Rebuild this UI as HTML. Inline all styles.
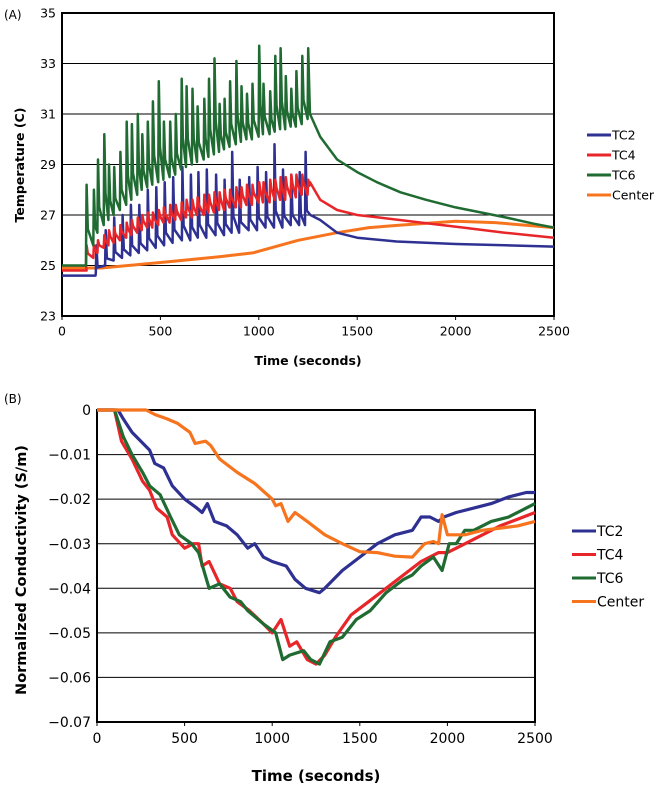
<!DOCTYPE html>
<html><head><meta charset="utf-8"><style>
body{margin:0;background:#fff;}
svg text{font-family:"DejaVu Sans","Liberation Sans",sans-serif;}
</style></head><body>
<svg id="s" width="661" height="790" xmlns="http://www.w3.org/2000/svg"></svg>
<script>
// ---- Chart A data ----
const spikeTimes=[122,159,180,212,236,262,294,326,352,382,405,433,459,489,515,547,575,605,630,660,686,720,744,772,798,823,851,883,909,937,965,999,1021,1055,1081,1108,1134,1162,1188,1218,1248];
const tc6Peaks=[28.2,28.0,29.2,30.2,29.0,28.9,29.5,30.7,30.6,31.0,30.2,30.7,31.5,32.3,30.7,30.7,31.0,32.4,32.1,32.0,31.3,31.6,32.4,33.2,31.4,31.6,32.3,33.1,32.1,31.8,32.2,33.7,32.2,31.9,33.3,33.6,32.5,32.0,32.7,33.3,33.6];
const tc6Troughs=[25.5,25.8,26.3,26.6,26.8,27.0,27.2,27.4,27.6,27.8,28.0,28.1,28.2,28.3,28.4,28.5,28.6,28.8,28.9,29.0,29.1,29.2,29.3,29.4,29.5,29.6,29.7,29.8,29.9,30.0,30.0,30.1,30.2,30.2,30.3,30.4,30.4,30.5,30.5,30.6,30.8];
const tc2Times=[172,219,262,305,347,390,433,476,519,562,609,652,690,733,780,823,862,900,948,991,1034,1077,1120,1162,1205,1235];
const tc2Peaks=[25.8,26.4,26.9,27.0,27.4,27.4,28.0,28.1,28.3,28.5,28.9,28.6,28.7,28.8,28.6,28.4,29.5,28.4,28.5,28.9,28.7,29.8,28.8,28.6,28.7,29.5];
const tc2Troughs=[24.7,25.0,25.2,25.3,25.4,25.5,25.6,25.7,25.8,25.9,26.0,26.0,26.1,26.1,26.2,26.2,26.3,26.3,26.4,26.4,26.5,26.5,26.5,26.6,26.6,26.6];
const tc4Peaks=[25.8,25.8,26.0,26.2,26.4,26.5,26.6,26.7,26.8,26.9,27.0,27.1,27.1,27.2,27.3,27.4,27.4,27.5,27.6,27.6,27.7,27.8,27.8,27.9,27.9,28.0,28.0,28.1,28.1,28.2,28.2,28.3,28.3,28.4,28.4,28.5,28.5,28.6,28.6,28.6,28.4];
const tc4Troughs=[25.0,25.3,25.5,25.7,25.8,25.9,26.0,26.1,26.2,26.3,26.4,26.5,26.5,26.6,26.7,26.7,26.8,26.8,26.9,26.9,27.0,27.0,27.1,27.1,27.2,27.2,27.3,27.3,27.3,27.4,27.4,27.5,27.5,27.5,27.6,27.6,27.6,27.7,27.7,27.8,27.8];
const tc6Pre=[[0,25.0],[122,25.0]];
const tc2Pre=[[0,24.6],[170,24.6]];
const tc4Pre=[[0,24.8],[125,24.8]];
const tc6Decay=[[1260,31.0],[1312,30.1],[1398,29.2],[1500,28.7],[1600,28.3],[1720,27.9],[1850,27.6],[2000,27.3],[2130,27.1],[2256,26.9],[2400,26.65],[2500,26.5]];
const tc4Decay=[[1260,28.3],[1312,27.6],[1398,27.2],[1500,27.0],[1612,26.9],[1826,26.7],[2040,26.5],[2250,26.3],[2500,26.1]];
const tc2Decay=[[1262,27.0],[1312,26.8],[1398,26.3],[1500,26.1],[1700,25.95],[2000,25.85],[2250,25.8],[2500,25.75]];
const centerA=[[0,24.9],[200,24.9],[540,25.15],[800,25.35],[969,25.5],[1200,26.0],[1398,26.3],[1560,26.5],[1720,26.6],[2000,26.75],[2200,26.7],[2500,26.5]];
const aYTicks=[23,25,27,29,31,33,35];
const xTicks=[0,500,1000,1500,2000,2500];
// ---- Chart B data ----
const bTC2=[[0,0],[120,0],[150,-0.002],[200,-0.005],[300,-0.009],[330,-0.012],[380,-0.013],[430,-0.017],[500,-0.020],[570,-0.022],[600,-0.023],[630,-0.021],[670,-0.025],[740,-0.026],[800,-0.028],[860,-0.031],[900,-0.030],[950,-0.033],[1000,-0.034],[1080,-0.035],[1130,-0.038],[1190,-0.040],[1270,-0.041],[1300,-0.040],[1400,-0.036],[1500,-0.033],[1600,-0.030],[1700,-0.028],[1800,-0.027],[1850,-0.024],[1900,-0.024],[1950,-0.025],[1980,-0.024],[2050,-0.023],[2150,-0.022],[2250,-0.021],[2350,-0.0195],[2450,-0.0185],[2500,-0.0185]];
const bTC4=[[0,0],[100,0],[140,-0.007],[200,-0.011],[260,-0.016],[300,-0.018],[340,-0.022],[400,-0.024],[430,-0.028],[500,-0.031],[550,-0.030],[580,-0.030],[600,-0.035],[640,-0.034],[700,-0.039],[760,-0.040],[800,-0.043],[870,-0.045],[950,-0.048],[1000,-0.050],[1050,-0.047],[1100,-0.053],[1140,-0.052],[1200,-0.056],[1250,-0.057],[1300,-0.055],[1360,-0.051],[1450,-0.046],[1550,-0.043],[1650,-0.040],[1750,-0.037],[1850,-0.034],[1950,-0.032],[2000,-0.032],[2050,-0.031],[2150,-0.029],[2300,-0.026],[2400,-0.0245],[2500,-0.023]];
const bTC6=[[0,0],[100,0],[150,-0.006],[200,-0.010],[260,-0.014],[300,-0.017],[360,-0.019],[420,-0.024],[470,-0.028],[540,-0.030],[580,-0.032],[640,-0.040],[700,-0.039],[760,-0.042],[820,-0.043],[860,-0.045],[950,-0.048],[1020,-0.050],[1060,-0.056],[1100,-0.055],[1180,-0.054],[1220,-0.056],[1270,-0.057],[1330,-0.052],[1400,-0.051],[1480,-0.047],[1560,-0.045],[1650,-0.041],[1750,-0.038],[1800,-0.037],[1850,-0.035],[1920,-0.033],[1970,-0.036],[2010,-0.030],[2050,-0.030],[2100,-0.027],[2150,-0.027],[2250,-0.025],[2350,-0.024],[2450,-0.022],[2500,-0.021]];
const bCenter=[[0,0],[280,0],[330,-0.001],[400,-0.002],[460,-0.003],[530,-0.005],[560,-0.0075],[620,-0.007],[650,-0.008],[700,-0.011],[800,-0.014],[900,-0.0165],[1000,-0.020],[1020,-0.0215],[1050,-0.021],[1090,-0.025],[1130,-0.023],[1200,-0.025],[1300,-0.028],[1400,-0.030],[1500,-0.0318],[1600,-0.032],[1700,-0.0328],[1800,-0.033],[1870,-0.030],[1920,-0.0295],[1950,-0.030],[1970,-0.0235],[2000,-0.028],[2100,-0.028],[2200,-0.027],[2300,-0.0265],[2400,-0.026],[2500,-0.025]];
const bYTicks=[0,-0.01,-0.02,-0.03,-0.04,-0.05,-0.06,-0.07];
const seriesNames=["TC2","TC4","TC6","Center"];

const C={TC2:"#2e3192",TC4:"#e8262a",TC6:"#1f6b32",Center:"#f7741f"};
const NS="http://www.w3.org/2000/svg";
const svg=document.getElementById('s');
function el(tag,attrs,parent,txt){const e=document.createElementNS(NS,tag);for(const k in attrs)e.setAttribute(k,attrs[k]);if(txt!==undefined)e.textContent=txt;(parent||svg).appendChild(e);return e;}

const ax={x0:62,x1:554,y0:13,y1:316,tMin:0,tMax:2500,vMin:23,vMax:35};
const bx={x0:97,x1:535,y0:410,y1:722,tMin:0,tMax:2500,vMin:-0.07,vMax:0};
function X(a,t){return a.x0+(t-a.tMin)/(a.tMax-a.tMin)*(a.x1-a.x0);}
function Y(a,v){return a.y1-(v-a.vMin)/(a.vMax-a.vMin)*(a.y1-a.y0);}

function sawtooth(pre,times,peaks,troughs,decay,frac){
  const pts=pre.slice();
  for(let i=0;i<times.length;i++){
    const t=times[i],tr=troughs[i],pk=peaks[i];
    pts.push([t,tr]);pts.push([t+3,pk]);
    pts.push([t+9,tr+(pk-tr)*frac]);
  }
  return pts.concat(decay);
}
function line(a,pts,color,name,w){
  const d=pts.map((p,i)=>(i?'L':'M')+X(a,p[0]).toFixed(1)+','+Y(a,p[1]).toFixed(1)).join('');
  const p=el('path',{d:d,fill:'none',stroke:color,'stroke-width':w,'stroke-linejoin':'round'});
  
  
}

function frame(a,yt,fmt,fs,name){
  const g=el('g',{});
  
  
  yt.forEach(v=>{
    const y=Y(a,v);
    const gl=el('line',{x1:a.x0,x2:a.x1,y1:y,y2:y,stroke:'#000','stroke-width':1},g);
    
    
    const tl=el('text',{x:a.x0-6,y:y+fs*0.36,'text-anchor':'end','font-size':fs},g,fmt(v));
    
    
  });
  xTicks.forEach(t=>{
    const x=X(a,t);
    el('line',{x1:x,x2:x,y1:a.y1,y2:a.y1+4,stroke:'#000'},g);
    const tl=el('text',{x:x,y:a.y1+fs+7,'text-anchor':'middle','font-size':fs},g,String(t));
    
    
  });
  el('rect',{x:a.x0,y:a.y0,width:a.x1-a.x0,height:a.y1-a.y0,fill:'none',stroke:'#000','stroke-width':2},g);
}
function legend(x,y,dy,fs,name){
  const g=el('g',{});
  
  
  seriesNames.forEach((n,i)=>{
    const yy=y+i*dy;
    el('line',{x1:x,x2:x+24,y1:yy,y2:yy,stroke:C[n],'stroke-width':3},g);
    const t=el('text',{x:x+25,y:yy+fs*0.36,'font-size':fs},g,n);
    
    
  });
}

// Chart A
frame(ax,aYTicks,v=>String(v),12.5,'chart-a-axes');
line(ax,centerA,C.Center,'series-center-a',3);
line(ax,sawtooth(tc2Pre,tc2Times,tc2Peaks,tc2Troughs,tc2Decay,0.2),C.TC2,'series-tc2-a',2.5);
line(ax,sawtooth(tc4Pre,spikeTimes,tc4Peaks,tc4Troughs,tc4Decay,0.6),C.TC4,'series-tc4-a',2.5);
line(ax,sawtooth(tc6Pre,spikeTimes,tc6Peaks,tc6Troughs,tc6Decay,0.35),C.TC6,'series-tc6-a',2.5);
legend(587,135,20,12.5,'legend-a');
let t;
t=el('text',{x:4,y:19,'font-size':12},svg,'(A)');
t=el('text',{x:308,y:365,'text-anchor':'middle','font-size':12.5,'font-weight':'bold'},svg,'Time (seconds)');
t=el('text',{transform:'translate(24,165) rotate(-90)','text-anchor':'middle','font-size':12.5,'font-weight':'bold'},svg,'Temperature (C)');

// Chart B
frame(bx,bYTicks,v=>v===0?'0':'\u2212'+Math.abs(v).toFixed(2),14,'chart-b-axes');
line(bx,bTC2,C.TC2,'series-tc2-b',3.2);
line(bx,bTC4,C.TC4,'series-tc4-b',3.2);
line(bx,bTC6,C.TC6,'series-tc6-b',3.2);
line(bx,bCenter,C.Center,'series-center-b',3.2);
legend(572,531,23.5,14,'legend-b');
t=el('text',{x:4,y:403,'font-size':12},svg,'(B)');
t=el('text',{x:316,y:781,'text-anchor':'middle','font-size':15,'font-weight':'bold'},svg,'Time (seconds)');
t=el('text',{transform:'translate(26,570) rotate(-90)','text-anchor':'middle','font-size':14.5,'font-weight':'bold'},svg,'Normalized Conductivity (S/m)');
</script>
</body></html>
